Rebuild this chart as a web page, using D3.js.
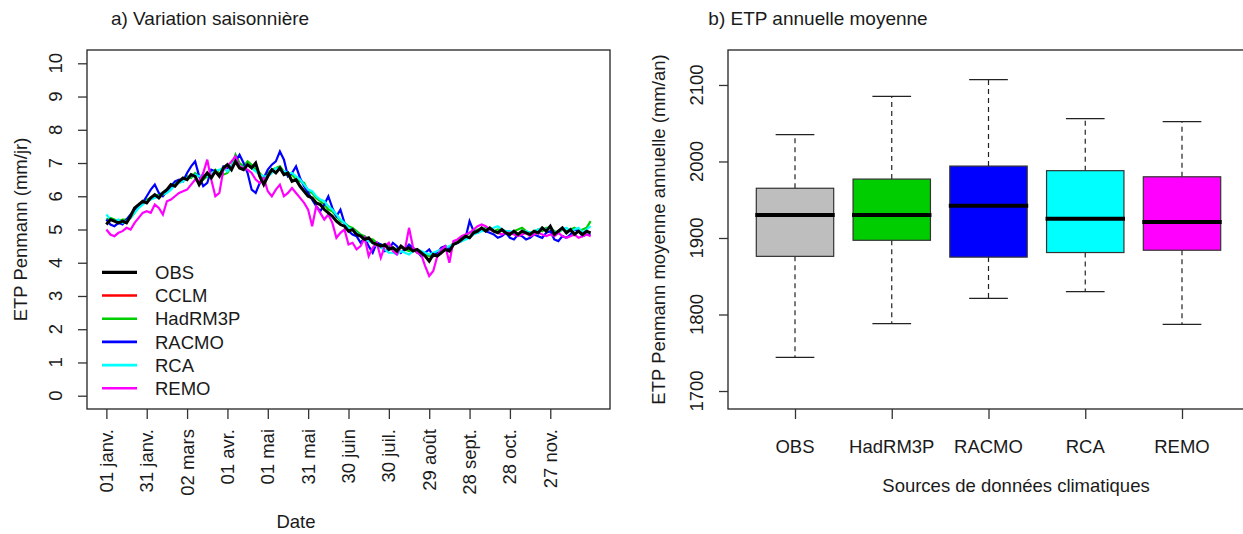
<!DOCTYPE html>
<html>
<head>
<meta charset="utf-8">
<script src="https://cdn.jsdelivr.net/npm/d3@7"></script>
<style>
  html, body { margin: 0; padding: 0; background: #fff; }
  svg { display: block; font-family: "Liberation Sans", Arial, sans-serif; }
  text { fill: #1a1a1a; }
</style>
</head>
<body>
<svg id="chart" width="1243" height="534"></svg>
<script>
// ---------- Data: panel a (values every 3 days, day 1 .. 361) ----------
const dayStep = 3;
const seriesNames = ["OBS", "CCLM", "HadRM3P", "RACMO", "RCA", "REMO"];
const seriesColors = ["#000000", "#FF0000", "#00CD00", "#0000FF", "#00FFFF", "#FF00FF"];

const obs = [
  5.15,5.3,5.25,5.2,5.25,5.2,5.4,5.65,5.75,5.85,
  5.8,5.95,6.05,5.95,6.1,6.2,6.35,6.3,6.45,6.55,
  6.5,6.65,6.6,6.35,6.55,6.7,6.55,6.75,6.6,6.85,
  6.95,6.8,7.05,6.85,6.8,6.95,6.85,7.0,6.6,6.35,
  6.6,6.8,6.7,6.85,6.65,6.7,6.45,6.5,6.3,6.15,
  6.0,5.95,5.8,5.75,5.6,5.5,5.4,5.25,5.15,5.1,
  4.95,5.0,4.85,4.8,4.7,4.75,4.6,4.55,4.5,4.55,
  4.4,4.45,4.35,4.5,4.4,4.45,4.35,4.4,4.3,4.2,
  4.05,4.25,4.2,4.3,4.4,4.35,4.55,4.6,4.7,4.8,
  4.75,4.9,4.95,5.05,4.95,5.05,4.95,4.9,5.0,4.9,
  4.85,4.95,4.85,4.95,4.9,4.85,4.95,4.9,5.05,4.95,
  5.1,4.85,4.95,5.05,4.9,5.0,4.85,4.95,4.85,4.95,
  4.9];
const cclm = [];
const hadrm3p = [
  5.3,5.35,5.3,5.25,5.3,5.3,5.35,5.5,5.7,5.8,
  5.9,5.95,6.0,6.05,6.1,6.15,6.3,6.4,6.4,6.5,
  6.6,6.55,6.7,6.6,6.5,6.6,6.7,6.8,6.7,6.65,
  6.7,6.9,7.25,7.0,6.9,7.05,6.95,6.8,6.7,6.55,
  6.7,6.8,6.85,6.9,6.75,6.6,6.65,6.5,6.45,6.4,
  6.15,6.1,5.95,5.85,5.75,5.6,5.55,5.4,5.25,5.2,
  5.1,5.05,4.95,4.85,4.8,4.7,4.7,4.6,4.55,4.5,
  4.5,4.45,4.4,4.45,4.4,4.35,4.4,4.3,4.3,4.25,
  4.2,4.25,4.3,4.35,4.4,4.45,4.6,4.65,4.75,4.8,
  4.9,4.95,5.0,5.0,5.05,5.0,4.95,5.0,4.95,4.95,
  4.9,4.95,5.0,5.05,4.95,4.9,4.95,5.0,4.95,5.05,
  5.05,4.95,4.9,5.0,4.95,5.0,5.05,4.95,5.0,5.05,
  5.25];
const racmo = [
  5.3,5.15,5.1,5.2,5.15,5.3,5.45,5.6,5.7,5.8,
  6.0,6.2,6.35,6.1,6.0,6.15,6.3,6.45,6.5,6.45,
  6.7,6.9,7.05,6.6,6.3,6.4,6.8,6.75,6.6,6.9,
  6.85,6.9,7.05,7.25,7.0,6.7,6.2,6.1,6.4,6.55,
  6.8,6.95,7.05,7.35,7.1,6.6,6.7,6.9,6.55,6.3,
  6.1,5.9,5.7,5.55,5.75,6.0,5.65,5.4,5.6,5.2,
  4.95,4.85,4.8,4.6,4.75,4.5,4.3,4.6,4.55,4.35,
  4.4,4.6,4.5,4.3,4.4,4.55,4.45,4.35,4.2,4.3,
  4.4,4.2,4.3,4.45,4.5,4.4,4.55,4.6,4.65,4.75,
  5.25,4.95,4.9,5.0,4.95,4.9,4.85,4.75,4.8,4.9,
  4.75,4.7,4.85,4.8,4.7,4.75,4.85,4.8,4.75,4.9,
  4.95,4.7,4.65,4.8,4.75,4.85,5.0,4.95,4.8,4.85,
  4.85];
const rca = [
  5.45,5.3,5.25,5.3,5.2,5.25,5.35,5.5,5.65,5.75,
  5.85,5.9,5.95,6.0,6.05,6.1,6.2,6.35,6.4,6.45,
  6.55,6.6,6.65,6.6,6.65,6.6,6.7,6.75,6.8,6.85,
  6.75,6.9,7.1,6.9,6.85,6.95,6.85,6.75,6.65,6.6,
  6.6,6.7,6.85,6.8,6.75,6.7,6.7,6.6,6.5,6.35,
  6.2,6.15,6.0,5.9,5.85,5.7,5.6,5.45,5.3,5.2,
  5.05,5.0,4.9,4.8,4.7,4.65,4.6,4.5,4.45,4.4,
  4.3,4.3,4.25,4.35,4.3,4.25,4.35,4.4,4.35,4.3,
  4.25,4.3,4.35,4.4,4.45,4.5,4.55,4.6,4.65,4.7,
  4.75,4.85,4.9,4.95,5.0,5.0,5.05,5.1,5.0,4.95,
  4.95,4.9,4.85,4.9,4.95,4.9,4.95,5.0,5.05,5.0,
  5.1,4.9,4.95,5.0,5.05,4.95,5.0,5.05,4.9,5.0,
  5.1];
const remo = [
  5.0,4.85,4.8,4.9,4.95,5.05,5.0,5.2,5.35,5.5,
  5.55,5.5,5.75,5.65,5.45,5.85,5.9,6.0,6.1,6.15,
  6.2,6.35,6.5,6.45,6.7,7.1,6.5,6.0,6.1,6.8,
  6.9,7.05,7.2,6.9,6.85,6.8,6.7,6.5,6.4,6.55,
  6.15,6.0,6.2,6.35,6.0,6.1,6.25,6.1,5.95,5.8,
  5.6,5.1,5.7,5.5,5.3,5.45,5.2,4.75,4.9,5.0,
  4.55,4.6,4.4,4.5,4.75,4.2,4.45,4.6,4.15,4.5,
  4.6,4.35,4.25,4.5,4.4,5.05,4.45,4.3,4.25,3.9,
  3.6,3.75,4.2,4.4,4.5,4.0,4.65,4.7,4.8,4.85,
  4.9,5.0,5.1,5.15,5.1,5.0,4.95,4.9,4.85,4.9,
  4.9,4.85,4.8,4.85,4.9,4.8,4.85,4.9,4.85,4.8,
  4.85,4.8,4.9,4.8,4.75,4.8,4.85,4.75,4.8,4.85,
  4.8];

const xTickDays = [1,31,61,91,121,151,181,211,241,271,301,331];
const xTickLabels = ["01 janv.","31 janv.","02 mars","01 avr.","01 mai","31 mai","30 juin","30 juil.","29 août","28 sept.","28 oct.","27 nov."];
const yTicksA = [0,1,2,3,4,5,6,7,8,9,10];

// ---------- Data: panel b (boxplots) ----------
const boxNames = ["OBS", "HadRM3P", "RACMO", "RCA", "REMO"];
const boxColors = ["#BEBEBE", "#00CD00", "#0000FF", "#00FFFF", "#FF00FF"];
const whiskerLow = [1744, 1788, 1821, 1830, 1787];
const q1 = [1876, 1897, 1875, 1881, 1884];
const median = [1930, 1930, 1942, 1925, 1921];
const q3 = [1965, 1977, 1994, 1988, 1980];
const whiskerHigh = [2035, 2085, 2107, 2056, 2052];
const yTicksB = [1700, 1800, 1900, 2000, 2100];

// ---------- Drawing ----------
const svg = d3.select("#chart");
const FS = 18.5;

// ===== Panel a =====
const A = {left: 87, right: 610, top: 50, bottom: 409};
const nPts = obs.length;
const lastDay = 1 + (nPts - 1) * dayStep;
const padX = 0.04 * (lastDay - 1);
const xA = d3.scaleLinear().domain([1 - padX, lastDay + padX]).range([A.left, A.right]);
const yA = d3.scaleLinear().domain([-0.4, 10.4]).range([A.bottom, A.top]);

const gA = svg.append("g");
const lineA = d3.line().x((d, i) => xA(1 + i * dayStep)).y(d => yA(d));

const drawOrder = [
  {vals: cclm, color: seriesColors[1], w: 2.2},
  {vals: hadrm3p, color: seriesColors[2], w: 2.2},
  {vals: racmo, color: seriesColors[3], w: 2.2},
  {vals: rca, color: seriesColors[4], w: 2.2},
  {vals: remo, color: seriesColors[5], w: 2.2},
  {vals: obs, color: seriesColors[0], w: 3}
];
drawOrder.forEach(s => {
  if (!s.vals.length) return;
  gA.append("path").attr("d", lineA(s.vals)).attr("fill", "none")
    .attr("stroke", s.color).attr("stroke-width", s.w).attr("stroke-linejoin", "miter");
});

// frame
gA.append("rect").attr("x", A.left).attr("y", A.top)
  .attr("width", A.right - A.left).attr("height", A.bottom - A.top)
  .attr("fill", "none").attr("stroke", "#222").attr("stroke-width", 1.3);

// y axis a
const yAxisA = d3.axisLeft(yA).tickValues(yTicksA).tickSize(9).tickFormat("");
const gyA = gA.append("g").attr("transform", `translate(${A.left},0)`).call(yAxisA);
gyA.select(".domain").remove();
gyA.selectAll("line").attr("stroke", "#333").attr("stroke-width", 1.3);
yTicksA.forEach(t => {
  gA.append("text").attr("transform", `translate(62,${yA(t)}) rotate(-90)`)
    .attr("text-anchor", "middle").attr("font-size", FS).text(t);
});

// x axis a
const xAxisA = d3.axisBottom(xA).tickValues(xTickDays).tickSize(10).tickFormat("");
const gxA = gA.append("g").attr("transform", `translate(0,${A.bottom})`).call(xAxisA);
gxA.select(".domain").remove();
gxA.selectAll("line").attr("stroke", "#333").attr("stroke-width", 1.3);
xTickDays.forEach((d, i) => {
  gA.append("text").attr("transform", `translate(${xA(d)},429) rotate(-90)`)
    .attr("text-anchor", "end").attr("dy", "0.35em").attr("font-size", FS).text(xTickLabels[i]);
});

// titles a
svg.append("text").attr("x", 210).attr("y", 25).attr("text-anchor", "middle")
  .attr("font-size", 19).text("a) Variation saisonnière");
svg.append("text").attr("x", 296).attr("y", 528).attr("text-anchor", "middle")
  .attr("font-size", FS).text("Date");
svg.append("text").attr("transform", `translate(27,${(A.top + A.bottom) / 2}) rotate(-90)`)
  .attr("text-anchor", "middle").attr("font-size", FS).text("ETP Penmann (mm/jr)");

// legend a
const legY0 = 272.3, legDy = 23.2;
seriesNames.forEach((name, i) => {
  const y = legY0 + i * legDy;
  gA.append("line").attr("x1", 102).attr("x2", 137).attr("y1", y).attr("y2", y)
    .attr("stroke", seriesColors[i]).attr("stroke-width", i === 0 ? 3.3 : 2.6);
  gA.append("text").attr("x", 155).attr("y", y).attr("dy", "0.36em")
    .attr("font-size", FS).text(name);
});

// ===== Panel b =====
const B = {left: 728, right: 1250, top: 50, bottom: 409};
const xB = d3.scaleLinear().domain([1, 5]).range([795, 1182]);
const unit = xB(2) - xB(1);
const yB = d3.scaleLinear().domain([1676.5, 2145.7]).range([B.bottom, B.top]);
const gB = svg.append("g");

boxNames.forEach((name, i) => {
  const cx = xB(i + 1);
  const bw = 0.8 * unit, cw = 0.4 * unit;
  gB.append("line").attr("x1", cx).attr("x2", cx).attr("y1", yB(q3[i])).attr("y2", yB(whiskerHigh[i]))
    .attr("stroke", "#222").attr("stroke-width", 1.2).attr("stroke-dasharray", "5,4");
  gB.append("line").attr("x1", cx).attr("x2", cx).attr("y1", yB(q1[i])).attr("y2", yB(whiskerLow[i]))
    .attr("stroke", "#222").attr("stroke-width", 1.2).attr("stroke-dasharray", "5,4");
  [whiskerHigh[i], whiskerLow[i]].forEach(v => {
    gB.append("line").attr("x1", cx - cw / 2).attr("x2", cx + cw / 2).attr("y1", yB(v)).attr("y2", yB(v))
      .attr("stroke", "#222").attr("stroke-width", 1.2);
  });
  gB.append("rect").attr("x", cx - bw / 2).attr("y", yB(q3[i]))
    .attr("width", bw).attr("height", yB(q1[i]) - yB(q3[i]))
    .attr("fill", boxColors[i]).attr("stroke", "#333").attr("stroke-width", 1.2);
  gB.append("line").attr("x1", cx - bw / 2 - 1).attr("x2", cx + bw / 2 + 1)
    .attr("y1", yB(median[i])).attr("y2", yB(median[i]))
    .attr("stroke", "#000").attr("stroke-width", 4);
});

gB.append("rect").attr("x", B.left).attr("y", B.top)
  .attr("width", B.right - B.left).attr("height", B.bottom - B.top)
  .attr("fill", "none").attr("stroke", "#222").attr("stroke-width", 1.3);

const gyB = gB.append("g").attr("transform", `translate(${B.left},0)`)
  .call(d3.axisLeft(yB).tickValues(yTicksB).tickSize(9).tickFormat(""));
gyB.select(".domain").remove();
gyB.selectAll("line").attr("stroke", "#333").attr("stroke-width", 1.3);
yTicksB.forEach(t => {
  gB.append("text").attr("transform", `translate(703,${yB(t)}) rotate(-90)`)
    .attr("text-anchor", "middle").attr("font-size", FS).text(t);
});

const gxB = gB.append("g").attr("transform", `translate(0,${B.bottom})`)
  .call(d3.axisBottom(xB).tickValues([1,2,3,4,5]).tickSize(10).tickFormat(""));
gxB.select(".domain").remove();
gxB.selectAll("line").attr("stroke", "#333").attr("stroke-width", 1.3);
boxNames.forEach((name, i) => {
  gB.append("text").attr("x", xB(i + 1)).attr("y", 452.5).attr("text-anchor", "middle")
    .attr("font-size", FS).text(name);
});

svg.append("text").attr("x", 818).attr("y", 25).attr("text-anchor", "middle")
  .attr("font-size", 19).text("b) ETP annuelle moyenne");
svg.append("text").attr("x", 1016).attr("y", 492).attr("text-anchor", "middle")
  .attr("font-size", FS).text("Sources de données climatiques");
svg.append("text").attr("transform", `translate(665,${(B.top + B.bottom) / 2}) rotate(-90)`)
  .attr("text-anchor", "middle").attr("font-size", FS).text("ETP Penmann moyenne annuelle (mm/an)");
</script>
</body>
</html>
